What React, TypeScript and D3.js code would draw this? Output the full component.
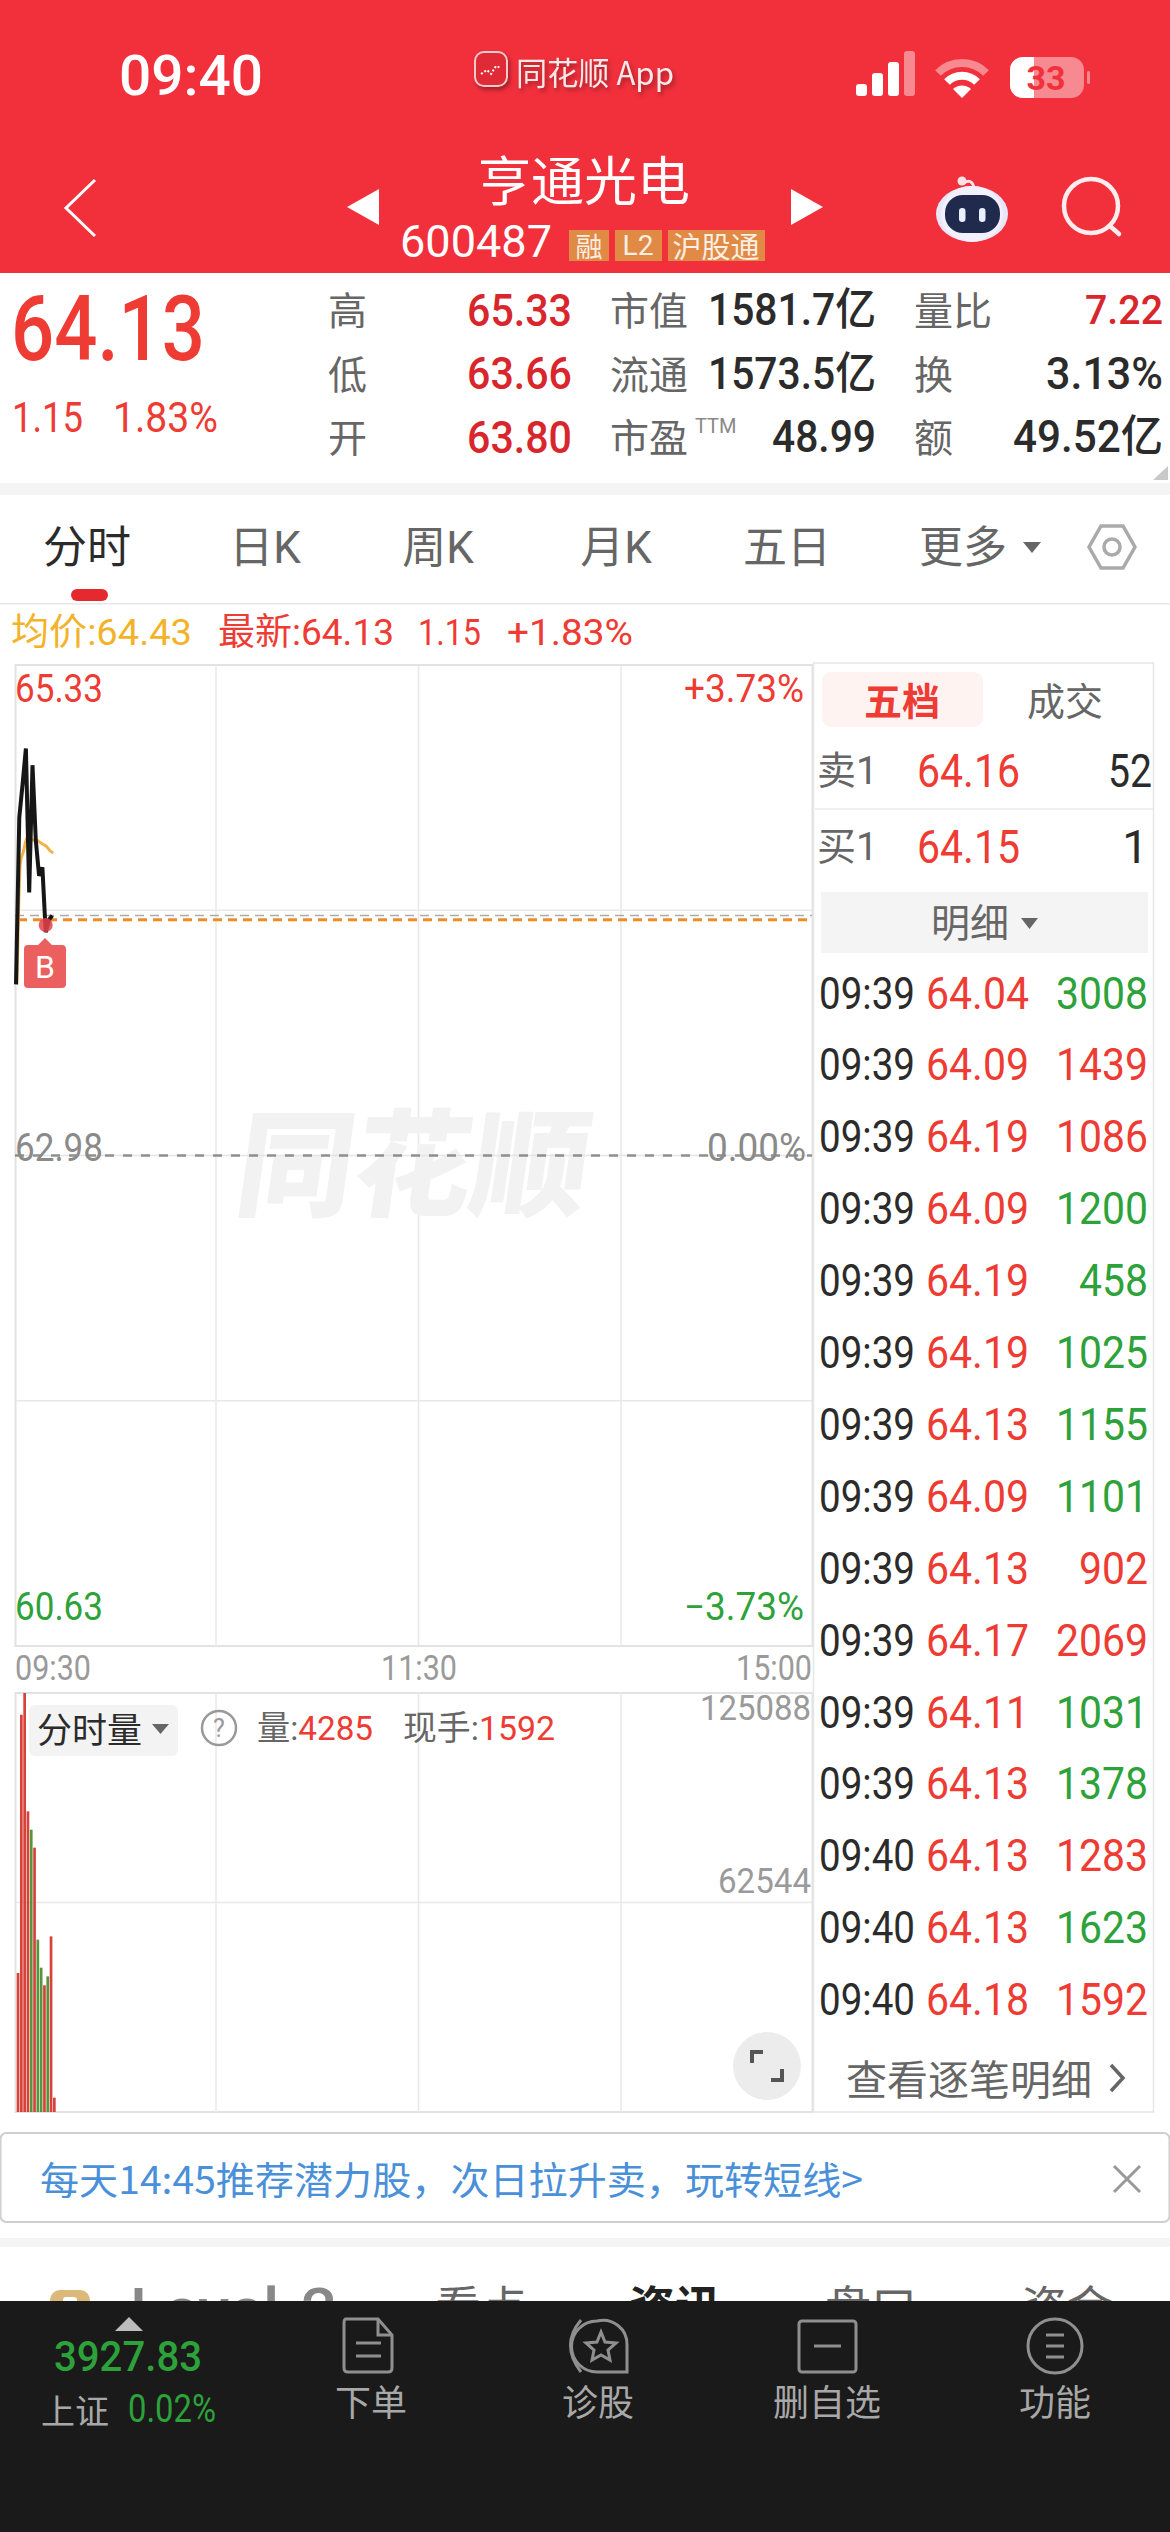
import * as d3 from 'd3';

const CN = "'Noto Sans CJK SC', sans-serif";
const NUM = "Roboto, 'Noto Sans CJK SC', sans-serif";

const RED = '#ee3b33';
const GREEN = '#2ea23a';
const DARK = '#2b2b2b';
const GRAY = '#666666';
const TOPBAR = '#f1303c';

// minute data, 09:30 onwards
const minutes = [0, 1, 2, 3, 4, 5, 6, 7, 8, 9, 10, 11];
const priceClose = [63.8, 64.6, 64.76, 64.93, 64.24, 64.85, 64.49, 64.32, 64.36, 64.05, 64.11, 64.13];
const priceAvg = [63.8, 64.38, 64.44, 64.5, 64.5, 64.49, 64.49, 64.48, 64.47, 64.46, 64.44, 64.43];
const volumes = [41500, 118600, 125088, 89760, 84290, 78910, 51450, 43090, 37820, 40500, 52440, 4285];
const volumeUp = [1, 1, 1, 1, 0, 1, 0, 0, 1, 0, 1, 1];

const priceHigh = 65.33;
const priceLow = 60.63;
const preClose = 62.98;
const lastPrice = 64.13;
const costPrice = 64.11;
const volumeMax = 125088;

const tradeTimes = ['09:39', '09:39', '09:39', '09:39', '09:39', '09:39', '09:39', '09:39', '09:39', '09:39', '09:39', '09:39', '09:40', '09:40', '09:40'];
const tradePrices = ['64.04', '64.09', '64.19', '64.09', '64.19', '64.19', '64.13', '64.09', '64.13', '64.17', '64.11', '64.13', '64.13', '64.13', '64.18'];
const tradeVols = ['3008', '1439', '1086', '1200', '458', '1025', '1155', '1101', '902', '2069', '1031', '1378', '1283', '1623', '1592'];
const tradeUp = [0, 1, 1, 0, 0, 0, 0, 0, 1, 1, 0, 0, 1, 0, 1];

const quoteLabels = ['高', '低', '开'];
const quoteValues = ['65.33', '63.66', '63.80'];
const quoteMidLabels = ['市值', '流通', '市盈'];
const quoteMidValues = ['1581.7亿', '1573.5亿', '48.99'];
const quoteMidWidths = [168, 168, 104];
const quoteRightLabels = ['量比', '换', '额'];
const quoteRightValues = ['7.22', '3.13%', '49.52亿'];
const quoteRightWidths = [78, 117, 150];

const periodTabs = ['分时', '日K', '周K', '月K', '五日', '更多'];
const periodTabX = [87, 265, 438, 616, 787, 963];
const newsTabs = ['看点', '资讯', '盘口', '资金'];
const newsTabX = [481, 675, 871, 1067];
const navLabels = ['下单', '诊股', '删自选', '功能'];
const navX = [371, 598, 827, 1055];
const timeTicks = [60, 120, 180];

const x = d3.scaleLinear().domain([0, 241]).range([15, 810]);
const xGrid = d3.scaleLinear().domain([0, 240]).range([13.5, 823.5]);
const yPrice = d3.scaleLinear().domain([priceLow, priceHigh]).range([1646, 665]);
const yVol = d3.scaleLinear().domain([0, volumeMax]).range([2112, 1693]);

const pricePath = d3.line<number>().x((i) => x(i) + 1).y((i) => yPrice(priceClose[i]))(minutes) || '';
const avgPath = d3.line<number>().x((i) => x(i) + 2).y((i) => yPrice(priceAvg[i])).curve(d3.curveMonotoneX)(minutes) || '';

type TP = {
  x: number; y: number; s: number; c?: string; a?: 'start' | 'middle' | 'end';
  f?: string; w?: number; b?: number | string; children: React.ReactNode; o?: number;
};

// text placed by its vertical middle; w squeezes it to the measured width
const T = ({ x, y, s, c = DARK, a = 'start', f = NUM, w, b = 400, children, o }: TP) => (
  <text x={x} y={y} fontSize={s} fill={c} textAnchor={a} fontFamily={f} fontWeight={b} dominantBaseline="central" opacity={o}
    {...(w ? { textLength: w, lengthAdjust: 'spacingAndGlyphs' } : {})}>
    {children}
  </text>
);

const StatusBar = () => (
  <g>
    <T x={191} y={76} s={55} c="#fff" a="middle" b={500} w={144}>09:40</T>
    <g style={{ filter: 'drop-shadow(2px 3px 2px rgba(110,20,25,.6))' }}>
      <rect x={475} y={52} width={32} height={34} rx={9} fill="#e02b36" stroke="#f7c9cc" strokeWidth={2} />
      <path d="M481 74 L487 70 L491 74 L496 66 L501 68" fill="none" stroke="#fff" strokeWidth={2} strokeDasharray="2 2" />
      <T x={516} y={71} s={32} c="#fbe9ea" f={CN} w={158}>同花顺 App</T>
    </g>
    {[0, 1, 2, 3].map((i) => (
      <rect key={i} x={856 + i * 16} y={84 - i * 11} width={11} height={12 + i * 11} rx={3} fill={i === 3 ? '#f78a90' : '#fff'} />
    ))}
    <path d="M938 73 A34 34 0 0 1 986 73" fill="none" stroke="#f78a90" strokeWidth={8} />
    <path d="M947 82 A21 21 0 0 1 977 82" fill="none" stroke="#fff" strokeWidth={8} />
    <path d="M953 89 L962 98 L971 89 A13 13 0 0 0 953 89 Z" fill="#fff" />
    <rect x={1010} y={57} width={74} height={41} rx={13} fill="#f78a90" />
    <path d="M1023 57 H1034 V98 H1023 A13 13 0 0 1 1010 85 V70 A13 13 0 0 1 1023 57 Z" fill="#fff" />
    <rect x={1087} y={71} width={3} height={13} rx={1.5} fill="#f78a90" />
    <T x={1046} y={78} s={34} c={TOPBAR} a="middle" b={700}>33</T>
  </g>
);

const Header = () => (
  <g>
    <rect width={1170} height={273} fill={TOPBAR} />
    <StatusBar />
    <path d="M95 180 L66 208 L95 236" fill="none" stroke="#fff" strokeWidth={3} />
    <path d="M379 189 V225 L347 207 Z" fill="#fff" />
    <path d="M791 189 V225 L823 207 Z" fill="#fff" />
    <T x={584} y={178} s={53} c="#fff" a="middle" f={CN}>亨通光电</T>
    <T x={400} y={242} s={44} c="#fff" w={152}>600487</T>
    <rect x={569} y={230} width={40} height={31} fill="#e08a45" />
    <rect x={615} y={230} width={47} height={31} fill="#e08a45" />
    <rect x={668} y={230} width={97} height={31} fill="#e08a45" />
    <T x={589} y={245} s={27} c="#fbeee2" a="middle" f={CN}>融</T>
    <T x={638} y={245} s={28} c="#fbeee2" a="middle">L2</T>
    <T x={716} y={245} s={29} c="#fbeee2" a="middle" f={CN}>沪股通</T>
    {/* robot button */}
    <path d="M964 183 Q972 178 974 188" fill="none" stroke="#f8e2e6" strokeWidth={3} />
    <circle cx={962} cy={181} r={4.5} fill="#f8e2e6" />
    <ellipse cx={972} cy={214} rx={36} ry={28} fill="#e9e6fa" />
    <ellipse cx={972} cy={214} rx={31} ry={28} fill="#f2f0fd" />
    <rect x={945} y={195} width={55} height={38} rx={18} fill="#1f2a4c" />
    <rect x={959} y={208} width={6.5} height={14} rx={3.2} fill="#eaf0ff" />
    <rect x={979} y={208} width={6.5} height={14} rx={3.2} fill="#eaf0ff" />
    {/* search */}
    <circle cx={1091} cy={206} r={27} fill="none" stroke="#fdeced" strokeWidth={4.5} />
    <path d="M1110 226 L1119 234" stroke="#fdeced" strokeWidth={4.5} strokeLinecap="round" />
  </g>
);

const Quote = () => {
  const rows = [310, 373.5, 437];
  return (
    <g>
      <T x={11} y={329} s={90} c={RED} w={194} b={500}>64.13</T>
      <T x={12} y={417} s={42} c={RED} w={71}>1.15</T>
      <T x={113} y={417} s={42} c={RED} w={105}>1.83%</T>
      {rows.map((y, i) => (
        <g key={y}>
          <T x={328} y={y - 2} s={39} c={GRAY} f={CN}>{quoteLabels[i]}</T>
          <T x={572} y={y} s={45} c="#d8262c" a="end" w={105} b={500}>{quoteValues[i]}</T>
          <T x={610} y={y - 2} s={39} c={GRAY} f={CN}>{quoteMidLabels[i]}</T>
          <T x={876} y={y} s={44} a="end" b={500} w={quoteMidWidths[i]}>{quoteMidValues[i]}</T>
          <T x={914} y={y - 2} s={39} c={GRAY} f={CN}>{quoteRightLabels[i]}</T>
          <T x={1163} y={y} s={i === 0 ? 40 : 44} c={i === 0 ? '#d8262c' : DARK} a="end" b={500} w={quoteRightWidths[i]}>{quoteRightValues[i]}</T>
        </g>
      ))}
      <T x={695} y={426} s={20} c="#888">TTM</T>
      <path d="M1168 466 V480 H1153 Z" fill="#c8c8c8" />
      <rect y={483} width={1170} height={12} fill="#f4f4f4" />
    </g>
  );
};

const PeriodTabs = () => (
  <g>
    {periodTabs.map((t, i) => (
      <T key={t} x={periodTabX[i]} y={548} s={44} c={i === 0 ? DARK : GRAY} a="middle">{t}</T>
    ))}
    <path d="M1023 542 H1041 L1032 553 Z" fill={GRAY} />
    <path d="M1101 526 H1123 L1135 547 L1123 568 H1101 L1089 547 Z" fill="none" stroke="#aaa" strokeWidth={3.5} />
    <circle cx={1112} cy={547} r={8} fill="none" stroke="#aaa" strokeWidth={3.5} />
    <rect x={71} y={589} width={37} height={12} rx={6} fill="#e6282f" />
    <rect y={603} width={1170} height={1.5} fill="#e8e8e8" />
    <T x={11} y={632} s={37} c="#f2b32a" w={181}>均价:64.43</T>
    <T x={218} y={632} s={37} c={RED} w={176}>最新:64.13</T>
    <T x={418} y={632} s={37} c={RED} w={63}>1.15</T>
    <T x={507} y={632} s={37} c={RED} w={126}>+1.83%</T>
  </g>
);

const PriceChart = () => {
  const top = yPrice(priceHigh);
  const bottom = yPrice(priceLow);
  return (
    <g>
      <rect x={15.5} y={top} width={797} height={bottom - top} fill="none" stroke="#e2e2e2" strokeWidth={2} />
      {timeTicks.map((t) => (
        <line key={t} x1={xGrid(t)} x2={xGrid(t)} y1={top} y2={bottom} stroke="#e8e8e8" strokeWidth={1.5} />
      ))}
      {[top + (bottom - top) / 4, top + ((bottom - top) * 3) / 4].map((y) => (
        <line key={y} x1={15} x2={812} y1={y} y2={y} stroke="#e8e8e8" strokeWidth={1.5} />
      ))}
      <g transform="translate(415,1157) skewX(-8)">
        <T x={-176} y={0} s={116} c="#f2f2f2" f={CN} b={900} w={352}>同花顺</T>
      </g>
      <line x1={15} x2={812} y1={yPrice(preClose)} y2={yPrice(preClose)} stroke="#e4e4e4" strokeWidth={1.5} />
      <line x1={15} x2={812} y1={yPrice(preClose)} y2={yPrice(preClose)} stroke="#8f8f8f" strokeWidth={2.5} strokeDasharray="9 9" />
      <line x1={15} x2={812} y1={yPrice(lastPrice)} y2={yPrice(lastPrice)} stroke="#aaa" strokeWidth={1.5} strokeDasharray="9 6" />
      <line x1={18} x2={812} y1={yPrice(costPrice)} y2={yPrice(costPrice)} stroke="#f08c28" strokeWidth={3} strokeDasharray="9 6" />
      <path d={avgPath} fill="none" stroke="#f6b24a" strokeWidth={3} />
      <path d={pricePath} fill="none" stroke="#161616" strokeWidth={4} />
      <circle cx={x(9) + 1} cy={925} r={7} fill="#e5424a" opacity={0.85} />
      <path d="M28 945 H38 L45 938 L52 945 H62 Q66 945 66 949 V984 Q66 988 62 988 H28 Q24 988 24 984 V949 Q24 945 28 945 Z" fill="#ec5f5f" />
      <T x={45} y={967} s={32} c="#fff" a="middle">B</T>
      <T x={15} y={689} s={38} c={RED} w={88}>{priceHigh.toFixed(2)}</T>
      <T x={804} y={689} s={38} c={RED} a="end" w={120}>+3.73%</T>
      <T x={15} y={1148} s={38} c="#8a8a8a" w={88}>{preClose.toFixed(2)}</T>
      <T x={806} y={1148} s={38} c="#8a8a8a" a="end" w={99}>0.00%</T>
      <T x={15} y={1607} s={38} c={GREEN} w={88}>{priceLow.toFixed(2)}</T>
      <T x={804} y={1607} s={38} c={GREEN} a="end" w={120}>−3.73%</T>
      <T x={15} y={1668} s={35} c="#9a9a9a" w={76}>09:30</T>
      <T x={419} y={1668} s={35} c="#9a9a9a" a="middle" w={76}>11:30</T>
      <T x={812} y={1668} s={35} c="#9a9a9a" a="end" w={76}>15:00</T>
    </g>
  );
};

const VolumeChart = () => {
  const top = yVol(volumeMax);
  const bottom = yVol(0);
  return (
    <g>
      <rect x={15.5} y={top} width={797} height={bottom - top} fill="none" stroke="#e2e2e2" strokeWidth={2} />
      {timeTicks.map((t) => (
        <line key={t} x1={xGrid(t)} x2={xGrid(t)} y1={top} y2={bottom} stroke="#e8e8e8" strokeWidth={1.5} />
      ))}
      <line x1={15} x2={812} y1={yVol(volumeMax / 2)} y2={yVol(volumeMax / 2)} stroke="#e8e8e8" strokeWidth={1.5} />
      {minutes.map((m, i) => (
        <rect key={m} x={x(m) + 1.7} y={yVol(volumes[i])} width={2.7} height={bottom - yVol(volumes[i])}
          fill={volumeUp[i] ? '#d9423b' : '#55963c'} />
      ))}
      <T x={811} y={1708} s={35} c="#9a9a9a" a="end" w={111}>{volumeMax}</T>
      <T x={811} y={1881} s={35} c="#9a9a9a" a="end" w={93}>{volumeMax / 2}</T>
      <rect x={29} y={1705} width={149} height={51} rx={6} fill="#f3f3f3" />
      <T x={37} y={1727} s={35} f={CN}>分时量</T>
      <path d="M152 1724 H169 L160.5 1734 Z" fill={GRAY} />
      <circle cx={219} cy={1728} r={17} fill="none" stroke="#999" strokeWidth={2.5} />
      <T x={219} y={1728} s={25} c="#999" a="middle">?</T>
      <T x={257} y={1728} s={34} c={GRAY} w={116}>量:<tspan fill={RED}>4285</tspan></T>
      <T x={403} y={1728} s={34} c={GRAY} w={152}>现手:<tspan fill={RED}>1592</tspan></T>
      <circle cx={767} cy={2066} r={34} fill="#ececec" />
      <path d="M752 2063 V2052 H763 M782 2069 V2080 H771" fill="none" stroke="#555" strokeWidth={4} />
    </g>
  );
};

const OrderPanel = () => (
  <g>
    <rect x={813.5} y={663} width={340} height={1449} fill="none" stroke="#e6e6e6" strokeWidth={1.5} />
    <rect x={822} y={672} width={161} height={55} rx={9} fill="#fff3f2" />
    <T x={902} y={698} s={38} c={RED} a="middle" f={CN} b={700}>五档</T>
    <T x={1065} y={698} s={38} c={GRAY} a="middle" f={CN}>成交</T>
    <T x={817} y={771} s={39} c={GRAY}>卖1</T>
    <T x={917} y={771} s={46} c={RED} w={103}>64.16</T>
    <T x={1152} y={771} s={46} a="end" w={44}>52</T>
    <line x1={815} x2={1153} y1={809} y2={809} stroke="#eaeaea" strokeWidth={1.5} />
    <T x={817} y={847} s={39} c={GRAY}>买1</T>
    <T x={917} y={847} s={46} c={RED} w={103}>64.15</T>
    <T x={1148} y={847} s={46} a="end">1</T>
    <rect x={821} y={892} width={327} height={61} fill="#f4f4f4" />
    <T x={970} y={920} s={39} c={GRAY} a="middle" f={CN}>明细</T>
    <path d="M1021 918 H1038 L1029.5 929 Z" fill={GRAY} />
    {tradeTimes.map((t, i) => {
      const y = 993 + i * 71.9;
      return (
        <g key={i}>
          <T x={819} y={y} s={45} w={96}>{t}</T>
          <T x={926} y={y} s={45} c={RED} w={103}>{tradePrices[i]}</T>
          <T x={1148} y={y} s={45} c={tradeUp[i] ? RED : GREEN} a="end" w={tradeVols[i].length * 23}>{tradeVols[i]}</T>
        </g>
      );
    })}
    <T x={846} y={2077} s={41} c={GRAY} f={CN}>查看逐笔明细</T>
    <path d="M1111 2065 L1123 2078 L1111 2091" fill="none" stroke={GRAY} strokeWidth={3.5} />
  </g>
);

const Promo = () => (
  <g>
    <rect x={0.5} y={2133} width={1169} height={89} rx={6} fill="#fff" stroke="#cfcfcf" strokeWidth={2} />
    <T x={40} y={2177} s={38} c="#4a90d9" f={CN} w={823}>每天14:45推荐潜力股，次日拉升卖，玩转短线&gt;</T>
    <path d="M1114 2166 L1140 2192 M1140 2166 L1114 2192" stroke="#999" strokeWidth={3} />
    <rect y={2238} width={1170} height={9} fill="#f4f4f4" />
    <rect x={50} y={2290} width={40} height={34} rx={10} fill="#dbb97a" />
    <rect x={63} y={2297} width={14} height={12} rx={3} fill="#fff" />
    <T x={130} y={2309} s={60} c="#888" w={207} b={500}>Level-2</T>
    {newsTabs.map((t, i) => (
      <T key={t} x={newsTabX[i]} y={2304} s={46} c={i === 1 ? '#222' : GRAY} a="middle" f={CN} b={i === 1 ? 700 : 400}>{t}</T>
    ))}
  </g>
);

const NavBar = () => (
  <g>
    <rect y={2301} width={1170} height={231} fill="#1a1a1a" />
    <path d="M129 2317 L143 2331 H115 Z" fill="#bdbdbd" />
    <T x={128} y={2356} s={43} c={GREEN} a="middle" w={148} b={500}>3927.83</T>
    <T x={41} y={2409} s={34} c="#a8a8a8" f={CN}>上证</T>
    <T x={128} y={2409} s={39} c={GREEN} w={88}>0.02%</T>
    {navLabels.map((t, i) => (
      <T key={t} x={navX[i]} y={2400} s={36} c="#a8a8a8" a="middle" f={CN}>{t}</T>
    ))}
    <g fill="none" stroke="#8f8f8f" strokeWidth={3}>
      <path d="M346 2319 H378 L392 2335 V2368 Q392 2372 388 2372 H348 Q344 2372 344 2368 V2323 Q344 2319 346 2319 Z" />
      <path d="M378 2319 V2335 H392" />
      <path d="M356 2343 H381 M356 2356 H381" />
      <path d="M581 2320 Q560 2345 581 2372" />
      <path d="M597 2321 A24 24 0 0 1 627 2345 V2372 H597 A25 25 0 0 1 597 2321 Z" />
      <path d="M601 2332 L605 2342 L616 2343 L608 2350 L610 2360 L601 2355 L592 2360 L594 2350 L586 2343 L597 2342 Z" />
      <rect x={799} y={2321} width={57} height={51} rx={3} />
      <path d="M814 2346 H841" />
      <circle cx={1055} cy={2346} r={27} />
      <path d="M1046 2335 H1064 M1046 2346 H1064 M1046 2357 H1064" />
    </g>
  </g>
);

export default function App() {
  return (
    <svg width={1170} height={2532} viewBox="0 0 1170 2532" style={{ position: 'absolute', left: 0, top: 0, background: '#fff' }}>
      <Header />
      <Quote />
      <PeriodTabs />
      <PriceChart />
      <VolumeChart />
      <OrderPanel />
      <Promo />
      <NavBar />
    </svg>
  );
}
